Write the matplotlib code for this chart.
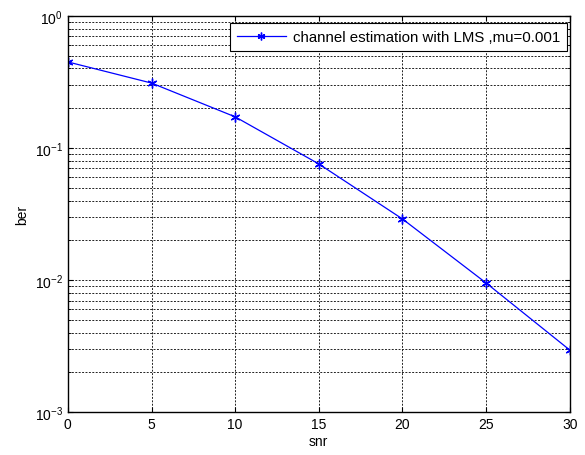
import numpy as np
import matplotlib
matplotlib.use("Agg")
import matplotlib.pyplot as plt
from matplotlib.ticker import LogLocator, NullFormatter

plt.rcParams['font.family'] = ['Liberation Sans', 'DejaVu Sans']

snr = [0, 5, 10, 15, 20, 25, 30]
ber = [0.448, 0.31, 0.172, 0.0757, 0.029, 0.0095, 0.00295]

fig = plt.figure(figsize=(5.85, 4.56), dpi=100)
ax = fig.add_axes([0.116, 0.094, 0.858, 0.869])
# matlab style asterisk marker
ax.semilogy(snr, ber, '-', marker=(6, 2, 0), color='blue', lw=0.9, ms=7,
            markeredgewidth=1.0, label='channel estimation with LMS ,mu=0.001')
ax.set_xlim(0, 30)
ax.set_ylim(1e-3, 1)
ax.set_xticks([0, 5, 10, 15, 20, 25, 30])
ax.yaxis.set_major_locator(LogLocator(base=10))
ax.yaxis.set_minor_locator(LogLocator(base=10, subs=np.arange(2, 10)))
ax.yaxis.set_minor_formatter(NullFormatter())
ax.grid(True, which='major', ls=(0, (2, 1.5)), color='#222222', lw=0.7)
ax.grid(True, which='minor', axis='y', ls=(0, (2, 1.5)), color='#222222', lw=0.7)
ax.tick_params(which='both', direction='in', top=True, right=True, labelsize=10)
for s in ax.spines.values():
    s.set_linewidth(1)
ax.set_xlabel('snr', fontsize=10, labelpad=2)
ax.set_ylabel('ber', fontsize=10)
leg = ax.legend(loc='upper right', bbox_to_anchor=(0.994, 0.982), fontsize=10.8,
                fancybox=False, edgecolor='black', framealpha=1, borderaxespad=0,
                handlelength=3.3, handletextpad=0.45, borderpad=0.45,
                markerscale=0.8)
leg.get_frame().set_linewidth(0.8)
fig.savefig('out.png', dpi=100)
